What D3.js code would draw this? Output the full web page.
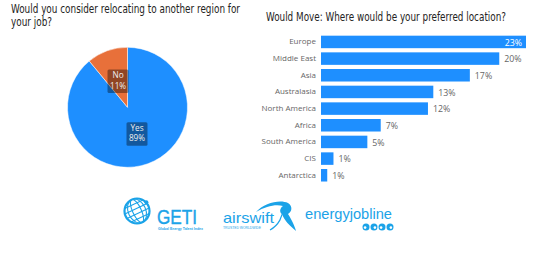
<!DOCTYPE html>
<html><head><meta charset="utf-8">
<script src="https://cdn.jsdelivr.net/npm/d3@7"></script>
<style>body{margin:0;background:#fff}svg{display:block}</style>
</head><body>
<svg id="c" width="546" height="273"></svg>
<script>
const pieLabels = ["Yes", "No"];
const pieValues = [89, 11];
const pieColors = ["#1E8FFF", "#E8703A"];

const regions = ["Europe","Middle East","Asia","Australasia","North America","Africa","South America","CIS","Antarctica"];
const regionValues = [23.0, 20.0, 16.7, 12.6, 12.0, 6.7, 5.2, 1.4, 0.7];

const titleLeft = ["Would you consider relocating to another region for", "your job?"];
const titleRight = "Would Move: Where would be your preferred location?";

const svg = d3.select("#c");
const titleFont = "'DejaVu Sans Condensed','DejaVu Sans',sans-serif";
const bodyFont = "'Open Sans','Noto Sans',sans-serif";

function fitText(sel, w){ sel.attr("textLength", w).attr("lengthAdjust","spacingAndGlyphs"); }

// Titles
svg.append("text").attr("x",11).attr("y",12.5).attr("font-family",titleFont).attr("font-size",11.5)
  .attr("fill","#252423").text(titleLeft[0]).call(fitText,229);
svg.append("text").attr("x",11).attr("y",26).attr("font-family",titleFont).attr("font-size",11.5)
  .attr("fill","#252423").text(titleLeft[1]).call(fitText,41);
svg.append("text").attr("x",266).attr("y",20.5).attr("font-family",titleFont).attr("font-size",11.5)
  .attr("fill","#252423").text(titleRight).call(fitText,240);

// Pie
const cx = 127.5, cy = 107.3, R = 60;
const pie = d3.pie().sort(null).value(d=>d)(pieValues);
const arc = d3.arc().innerRadius(0).outerRadius(R);
const lblArc = d3.arc().innerRadius(28).outerRadius(28);
const pg = svg.append("g").attr("transform",`translate(${cx},${cy})`);
pg.selectAll("path").data(pie).join("path").attr("d",arc)
  .attr("fill",(d,i)=>pieColors[i]).attr("stroke","#fff").attr("stroke-width",0.5);
pie.forEach((d,i)=>{
  const [x,y] = lblArc.centroid(d);
  const g = pg.append("g").attr("transform",`translate(${x},${y})`);
  g.append("rect").attr("x",-10.5).attr("y",-11.5).attr("width",21).attr("height",23.5).attr("rx",1.5)
    .attr("fill","#000").attr("fill-opacity",0.38);
  g.append("text").attr("text-anchor","middle").attr("y",-2.6).attr("font-family",bodyFont)
    .attr("font-size",8.2).attr("fill","#eee").text(pieLabels[i]);
  g.append("text").attr("text-anchor","middle").attr("y",7.8).attr("font-family",bodyFont)
    .attr("font-size",8.2).attr("fill","#eee").text(pieValues[i]+"%");
});

// Bars
const x = d3.scaleLinear().domain([0, 23.0]).range([321, 526]);
const y = d3.scaleBand().domain(regions).range([33.6, 183.6]).paddingInner(0.25).paddingOuter(0.125);
const bg = svg.append("g");
bg.selectAll("rect").data(regions).join("rect")
  .attr("x",x(0)).attr("y",d=>y(d)).attr("height",y.bandwidth())
  .attr("width",(d,i)=>x(regionValues[i])-x(0)).attr("fill","#1E8FFF");
const yAxis = d3.axisLeft(y).tickSize(0).tickPadding(5);
const ag = svg.append("g").attr("transform",`translate(${x(0)},0)`).call(yAxis);
ag.select(".domain").remove();
ag.selectAll("text").attr("font-family",bodyFont).attr("font-size",8).attr("fill","#666");
bg.selectAll("text").data(regions).join("text")
  .attr("x",(d,i)=> i===0 ? x(regionValues[i])-4 : x(regionValues[i])+5)
  .attr("text-anchor",(d,i)=> i===0 ? "end":"start")
  .attr("y",d=>y(d)+y.bandwidth()/2+3.6)
  .attr("font-family",bodyFont).attr("font-size",8.8)
  .attr("fill",(d,i)=> i===0 ? "#fff" : "#666")
  .text((d,i)=>Math.round(regionValues[i])+"%");

// Logos
const lc = "#1BA3E8";
const lg = svg.append("g");
// GETI globe
const gx=137, gy=211, gr=12.5;
const globe = lg.append("g").attr("fill","none").attr("stroke",lc);
globe.append("circle").attr("cx",gx).attr("cy",gy).attr("r",gr).attr("stroke-width",2.2);
[0.35,0.7].forEach(f=>{
  globe.append("ellipse").attr("cx",gx).attr("cy",gy).attr("rx",gr*f).attr("ry",gr).attr("stroke-width",1.1)
    .attr("transform",`rotate(-25,${gx},${gy})`);
});
[-0.6,-0.2,0.2,0.6].forEach(f=>{
  const yy=gy+gr*f, hw=Math.sqrt(gr*gr-(gr*f)*(gr*f));
  globe.append("line").attr("x1",gx-hw).attr("x2",gx+hw).attr("y1",yy).attr("y2",yy).attr("stroke-width",1.1)
    .attr("transform",`rotate(-25,${gx},${gy})`);
});
globe.append("circle").attr("cx",gx+gr*0.75).attr("cy",gy-gr*0.7).attr("r",2).attr("fill",lc).attr("stroke","none");
lg.append("text").attr("x",157).attr("y",224).attr("font-family","'Liberation Sans',Arial,sans-serif")
  .attr("font-size",19.5).attr("fill",lc).attr("stroke",lc).attr("stroke-width",0.4).text("GETI").call(fitText,40);
lg.append("text").attr("x",158).attr("y",229.5).attr("font-family","'Liberation Sans',Arial,sans-serif")
  .attr("font-size",3.5).attr("font-weight","bold").attr("fill",lc).text("Global Energy Talent Index").call(fitText,45);
// airswift
lg.append("text").attr("x",223).attr("y",223).attr("font-family","'Liberation Sans',Arial,sans-serif")
  .attr("font-size",15).attr("fill",lc).text("airswift").call(fitText,51);
lg.append("text").attr("x",223).attr("y",228.5).attr("font-family","'Liberation Sans',Arial,sans-serif")
  .attr("font-size",3.2).attr("fill",lc).text("TRUSTED WORLDWIDE").call(fitText,38);
lg.append("path").attr("fill",lc)
  .attr("d","M256,212 C264,203 280,199 288,203 C293,206 292,212 288,214 C292,220 295,227 296,231 C290,226 284,220 282,214 C279,212 280,208 283,206 C276,204 266,206 256,212 Z");
lg.append("path").attr("fill","none").attr("stroke",lc).attr("stroke-width",1.2)
  .attr("d","M283,208 C283,216 279,225 270,230");
// energyjobline
lg.append("text").attr("x",305).attr("y",219).attr("font-family","'Liberation Sans',Arial,sans-serif")
  .attr("font-size",14.5).attr("fill",lc).text("energyjobline").call(fitText,87);
[366,374,382,390].forEach((cxv,i)=>{
  lg.append("circle").attr("cx",cxv).attr("cy",227).attr("r",3.5).attr("fill",lc);
  lg.append("circle").attr("cx",cxv+(i%2?0.9:-0.9)).attr("cy",227.6).attr("r",1.3).attr("fill","#fff");
});
</script>
</body></html>
